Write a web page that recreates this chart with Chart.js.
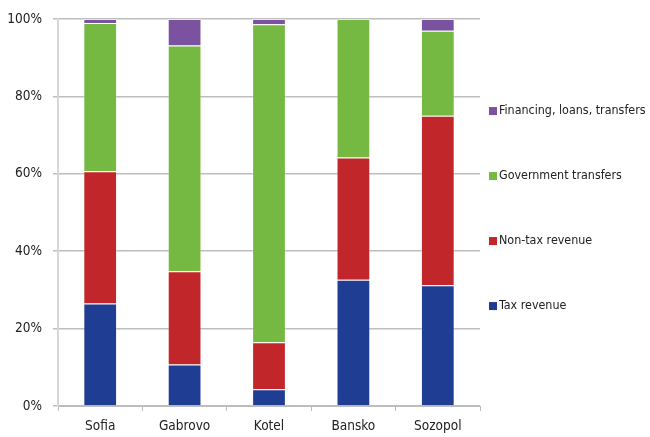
<!DOCTYPE html>
<html>
<head>
<meta charset="utf-8">
<script src="https://cdn.jsdelivr.net/npm/chart.js@4"></script>
<style>
  html, body { margin: 0; padding: 0; background: #fff; }
  #wrap { width: 650px; height: 437px; }
</style>
</head>
<body>
<div id="wrap"><canvas id="chart"></canvas></div>
<script>
// municipalities and revenue shares (%)
const towns = ['Sofia', 'Gabrovo', 'Kotel', 'Bansko', 'Sozopol'];
const taxRevenue = [26.5, 10.7, 4.3, 32.6, 31.2];
const nonTaxRevenue = [34.2, 24.1, 12.2, 31.6, 43.8];
const govTransfers = [38.3, 58.4, 82.2, 35.8, 22.0];
const financing = [1.0, 6.8, 1.3, 0.0, 3.0];
const yTicks = [0, 20, 40, 60, 80, 100];

const FONT = '"Liberation Sans Narrow", "DejaVu Sans Condensed", sans-serif';

// legend drawn on the right, top item first (reverse of stack order)
const sideLegend = {
  id: 'sideLegend',
  afterDraw(chart) {
    const ctx = chart.ctx;
    const area = chart.chartArea;
    const sets = chart.data.datasets.slice().reverse();
    const mid = (area.top + area.bottom) / 2;
    ctx.save();
    ctx.font = '12.4px ' + FONT;
    ctx.textBaseline = 'middle';
    sets.forEach((ds, i) => {
      const y = mid + (i - 1.5) * 65 - 4;
      const x = area.right + 9;
      ctx.fillStyle = ds.backgroundColor;
      ctx.fillRect(x, y - 4, 8, 8);
      ctx.fillStyle = '#222';
      ctx.fillText(ds.label, x + 10, y);
    });
    ctx.restore();
  }
};

const ctx = document.getElementById('chart').getContext('2d');
new Chart(ctx, {
  type: 'bar',
  data: {
    labels: towns,
    datasets: [
      { label: 'Tax revenue', data: taxRevenue, backgroundColor: '#1f3d92' },
      { label: 'Non-tax revenue', data: nonTaxRevenue, backgroundColor: '#c0262a' },
      { label: 'Government transfers', data: govTransfers, backgroundColor: '#75b943' },
      { label: 'Financing, loans, transfers', data: financing, backgroundColor: '#7a52a0' },
    ].map(d => Object.assign(d, {
      borderColor: 'rgba(255,255,255,0.3)',
      borderWidth: 1,
      barPercentage: 0.4,
      categoryPercentage: 1,
    })),
  },
  options: {
    responsive: true,
    maintainAspectRatio: false,
    animation: false,
    layout: { padding: { top: 14, right: 170, left: 0, bottom: 0 } },
    scales: {
      x: {
        stacked: true,
        offset: true,
        grid: { display: true, drawOnChartArea: false, offset: true, tickLength: 5, color: '#bdbdbd' },
        border: { color: '#bdbdbd', width: 1 },
        ticks: { color: '#222', font: { family: FONT, size: 13.5 }, padding: 7 },
        afterFit: (axis) => { axis.height = 31; },
      },
      y: {
        stacked: true,
        min: 0,
        max: 100,
        afterBuildTicks: (axis) => { axis.ticks = yTicks.map(v => ({ value: v })); },
        grid: { color: '#bdbdbd', lineWidth: 1.5, tickLength: 5 },
        border: { color: '#d6d6d6', width: 2 },
        ticks: {
          color: '#222',
          font: { family: FONT, size: 13.5 },
          padding: 11,
          callback: (v) => v + '%',
        },
        afterFit: (axis) => { axis.width = 58; },
      },
    },
    plugins: {
      legend: { display: false },
      tooltip: { enabled: false },
    },
  },
  plugins: [sideLegend],
});
</script>
</body>
</html>
